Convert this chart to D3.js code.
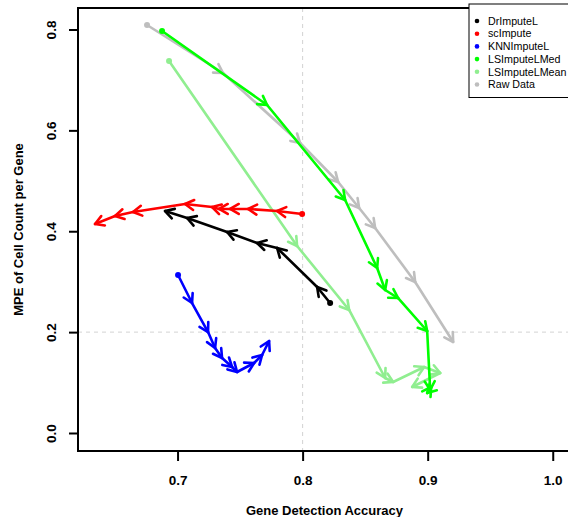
<!DOCTYPE html>
<html>
<head>
<meta charset="utf-8">
<script src="https://cdn.jsdelivr.net/npm/d3@7"></script>
<style>
  html, body { margin: 0; padding: 0; background: #fff; }
  svg { display: block; font-family: "Liberation Sans", Arial, Helvetica, sans-serif; }
</style>
</head>
<body>
<svg id="chart" width="568" height="517"></svg>
<script>
// Trajectories of each imputation method: (gene detection accuracy, MPE)
const methods = ["DrImputeL", "scImpute", "KNNImputeL", "LSImputeLMed", "LSImputeLMean", "Raw Data"];

const drimputeX = [0.822, 0.8116, 0.7796, 0.7636, 0.7396, 0.7076, 0.690];
const drimputeY = [0.2577, 0.2895, 0.3668, 0.3767, 0.3985, 0.4263, 0.4401];

const scimputeX = [0.7996, 0.7796, 0.7564, 0.742, 0.7332, 0.7276, 0.706, 0.6644, 0.650, 0.634];
const scimputeY = [0.4342, 0.4401, 0.4441, 0.4441, 0.4441, 0.448, 0.454, 0.4381, 0.4302, 0.4144];

const knnX = [0.7004, 0.7116, 0.7244, 0.730, 0.7356, 0.7436, 0.7476, 0.7612, 0.7676, 0.7732];
const knnY = [0.3132, 0.2577, 0.2002, 0.1685, 0.1487, 0.1308, 0.1209, 0.1388, 0.1546, 0.1824];

const lsMedX = [0.6876, 0.7716, 0.834, 0.8596, 0.866, 0.8764, 0.8996, 0.902, 0.8996, 0.9028];
const lsMedY = [0.797, 0.6503, 0.4619, 0.3271, 0.2835, 0.2676, 0.2022, 0.0853, 0.0793, 0.0912];

const lsMeanX = [0.6932, 0.7956, 0.8372, 0.866, 0.8724, 0.8972, 0.910, 0.8876];
const lsMeanY = [0.7375, 0.3707, 0.2439, 0.109, 0.1011, 0.1308, 0.119, 0.0912];

const rawX = [0.6756, 0.7364, 0.798, 0.8284, 0.8452, 0.858, 0.890, 0.9204];
const rawY = [0.8089, 0.7137, 0.5749, 0.4976, 0.4461, 0.4064, 0.2994, 0.1804];

const xTicks = [0.7, 0.8, 0.9, 1.0];
const yTicks = [0.0, 0.2, 0.4, 0.6, 0.8];
const refX = 0.8;
const refY = 0.2;

// Colours, in the order of `methods`
const colors = ["#000000", "#FF0000", "#0000FF", "#00FF00", "#90EE90", "#BEBEBE"];

const seriesX = [drimputeX, scimputeX, knnX, lsMedX, lsMeanX, rawX];
const seriesY = [drimputeY, scimputeY, knnY, lsMedY, lsMeanY, rawY];

const svg = d3.select("#chart");

const plot = { left: 78, right: 571, top: 8, bottom: 451 };
const x = d3.scaleLinear().domain([0.6204, 1.0146]).range([plot.left, plot.right]);
const y = d3.scaleLinear().domain([-0.0357, 0.8426]).range([plot.bottom, plot.top]);

// Dashed reference lines
svg.append("line")
  .attr("x1", x(refX)).attr("x2", x(refX))
  .attr("y1", plot.top).attr("y2", plot.bottom)
  .attr("stroke", "#d3d3d3").attr("stroke-width", 1).attr("stroke-dasharray", "4,4");
svg.append("line")
  .attr("x1", plot.left).attr("x2", plot.right)
  .attr("y1", y(refY)).attr("y2", y(refY))
  .attr("stroke", "#d3d3d3").attr("stroke-width", 1).attr("stroke-dasharray", "4,4");

// Arrow segments: each step ends in an open arrowhead
const drawOrder = [5, 4, 3, 2, 1, 0];
const headLen = 10;
const headAngle = Math.PI / 6;

drawOrder.forEach(i => {
  const g = svg.append("g");
  const xs = seriesX[i], ys = seriesY[i];
  const col = colors[i];
  for (let k = 0; k < xs.length - 1; k++) {
    const x0 = x(xs[k]), y0 = y(ys[k]), x1 = x(xs[k + 1]), y1 = y(ys[k + 1]);
    g.append("line")
      .attr("x1", x0).attr("y1", y0).attr("x2", x1).attr("y2", y1)
      .attr("stroke", col).attr("stroke-width", 2.6).attr("stroke-linecap", "round");
    const ang = Math.atan2(y1 - y0, x1 - x0);
    const p = d3.path();
    p.moveTo(x1 - headLen * Math.cos(ang - headAngle), y1 - headLen * Math.sin(ang - headAngle));
    p.lineTo(x1, y1);
    p.lineTo(x1 - headLen * Math.cos(ang + headAngle), y1 - headLen * Math.sin(ang + headAngle));
    g.append("path").attr("d", p.toString())
      .attr("fill", "none").attr("stroke", col).attr("stroke-width", 2.6)
      .attr("stroke-linecap", "round").attr("stroke-linejoin", "round");
  }
  g.append("circle")
    .attr("cx", x(xs[0])).attr("cy", y(ys[0])).attr("r", 3)
    .attr("fill", col);
});

// Plot frame
svg.append("rect")
  .attr("x", plot.left).attr("y", plot.top)
  .attr("width", plot.right - plot.left).attr("height", plot.bottom - plot.top)
  .attr("fill", "none").attr("stroke", "#000").attr("stroke-width", 2);

// X axis
const xAxis = d3.axisBottom(x).tickValues(xTicks).tickFormat(d3.format(".1f")).tickSize(10).tickPadding(14);
const gx = svg.append("g").attr("transform", `translate(0,${plot.bottom})`).call(xAxis);
gx.select(".domain").remove();
gx.selectAll(".tick line").attr("stroke-width", 2);
gx.selectAll(".tick text").attr("font-size", 13.5).attr("font-weight", "bold")
  .attr("font-family", "Liberation Sans, Arial, sans-serif").attr("fill", "#000");

// Y axis, labels rotated parallel to the axis
const yAxis = d3.axisLeft(y).tickValues(yTicks).tickFormat(d3.format(".1f")).tickSize(9).tickPadding(0);
const gy = svg.append("g").attr("transform", `translate(${plot.left},0)`).call(yAxis);
gy.select(".domain").remove();
gy.selectAll(".tick line").attr("stroke-width", 2);
gy.selectAll(".tick text")
  .attr("x", null).attr("dy", null)
  .attr("transform", "translate(-27,0) rotate(-90)")
  .attr("text-anchor", "middle")
  .attr("dy", "0.35em")
  .attr("font-size", 13.5).attr("font-weight", "bold")
  .attr("font-family", "Liberation Sans, Arial, sans-serif").attr("fill", "#000");

// Axis titles
svg.append("text")
  .attr("x", (plot.left + plot.right) / 2).attr("y", 510)
  .attr("dy", "0.35em")
  .attr("text-anchor", "middle").attr("font-size", 13).attr("font-weight", "bold")
  .text("Gene Detection Accuracy");
svg.append("text")
  .attr("transform", `translate(18,${(plot.top + plot.bottom) / 2}) rotate(-90)`)
  .attr("dy", "0.35em")
  .attr("text-anchor", "middle").attr("font-size", 13).attr("font-weight", "bold")
  .text("MPE of Cell Count per Gene");

// Legend
const lg = svg.append("g");
lg.append("rect")
  .attr("x", 469).attr("y", 4).attr("width", 120).attr("height", 93.5)
  .attr("fill", "#fff").attr("stroke", "#000").attr("stroke-width", 1);
methods.forEach((m, i) => {
  const cy = 21 + i * 12.7;
  lg.append("circle").attr("cx", 477).attr("cy", cy).attr("r", 2.3).attr("fill", colors[i]);
  lg.append("text").attr("x", 488).attr("y", cy).attr("dy", "0.35em")
    .attr("font-size", 10.7).attr("fill", "#000").text(m);
});
</script>
</body>
</html>
